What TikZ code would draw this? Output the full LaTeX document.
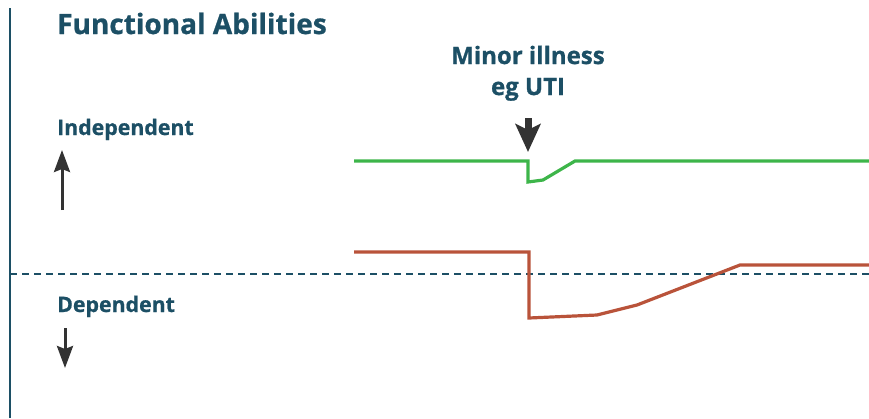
\documentclass[tikz,border=0pt]{standalone}
\usepackage{fontspec}
\setmainfont{Open Sans}[BoldFeatures={FakeBold=0.8}]
\usetikzlibrary{arrows.meta}
\definecolor{teal}{HTML}{1C4F65}
\definecolor{arrowgray}{HTML}{333333}
\definecolor{goodline}{HTML}{3DB54A}
\definecolor{badline}{HTML}{B9533A}
\tikzset{
  label/.style={font=\bfseries, text=teal, inner sep=0pt, anchor=base west},
  pointer/.style={draw=arrowgray, line width=3pt, -{Stealth[length=22pt,width=16pt,inset=3pt]}},
  trace/.style={line width=3.2pt, line join=miter},
}
\begin{document}
\begin{tikzpicture}[x=1pt,y=-1pt]
\useasboundingbox (0,0) rectangle (869,418);
% axis and threshold
\draw[teal, line width=2.5pt] (10,8) -- (10,418);
\draw[teal, line width=2.5pt, dash pattern=on 7pt off 5pt] (10,274) -- (869,274);
% labels
\node[label, font=\fontsize{28}{28}\bfseries] (title) at (57,34) {Functional Abilities};
\node[label, font=\fontsize{21.3}{22}\bfseries] (indep) at (57,135) {Independent};
\node[label, font=\fontsize{21.3}{22}\bfseries] (dep) at (57,312) {Dependent};
\node[font=\fontsize{24}{31}\bfseries, text=teal, align=center, inner sep=0pt, anchor=south] (ill) at (528,101) {Minor illness\\eg UTI};
% direction arrows
\coordinate (upS) at (62,210);
\coordinate (upE) at (62,150);
\coordinate (dnS) at (65,328);
\coordinate (dnE) at (65,368);
\draw[pointer] (upS) -- (upE);
\draw[pointer] (dnS) -- (dnE);
% onset marker
\coordinate (mkS) at (528,118);
\coordinate (mkE) at (528,152);
\draw[draw=arrowgray, line width=7pt, -{Stealth[length=28pt,width=25pt,inset=6pt]}] (mkS) -- (mkE);
% ability traces
\draw[trace, goodline] (354,161) -- (528,161) -- (528,182) -- (543,180) -- (575,161) -- (869,161);
\draw[trace, badline] (354,252) -- (529,252) -- (529,318) -- (597,315) -- (637,305) -- (740,265) -- (869,265);
\end{tikzpicture}
\end{document}
